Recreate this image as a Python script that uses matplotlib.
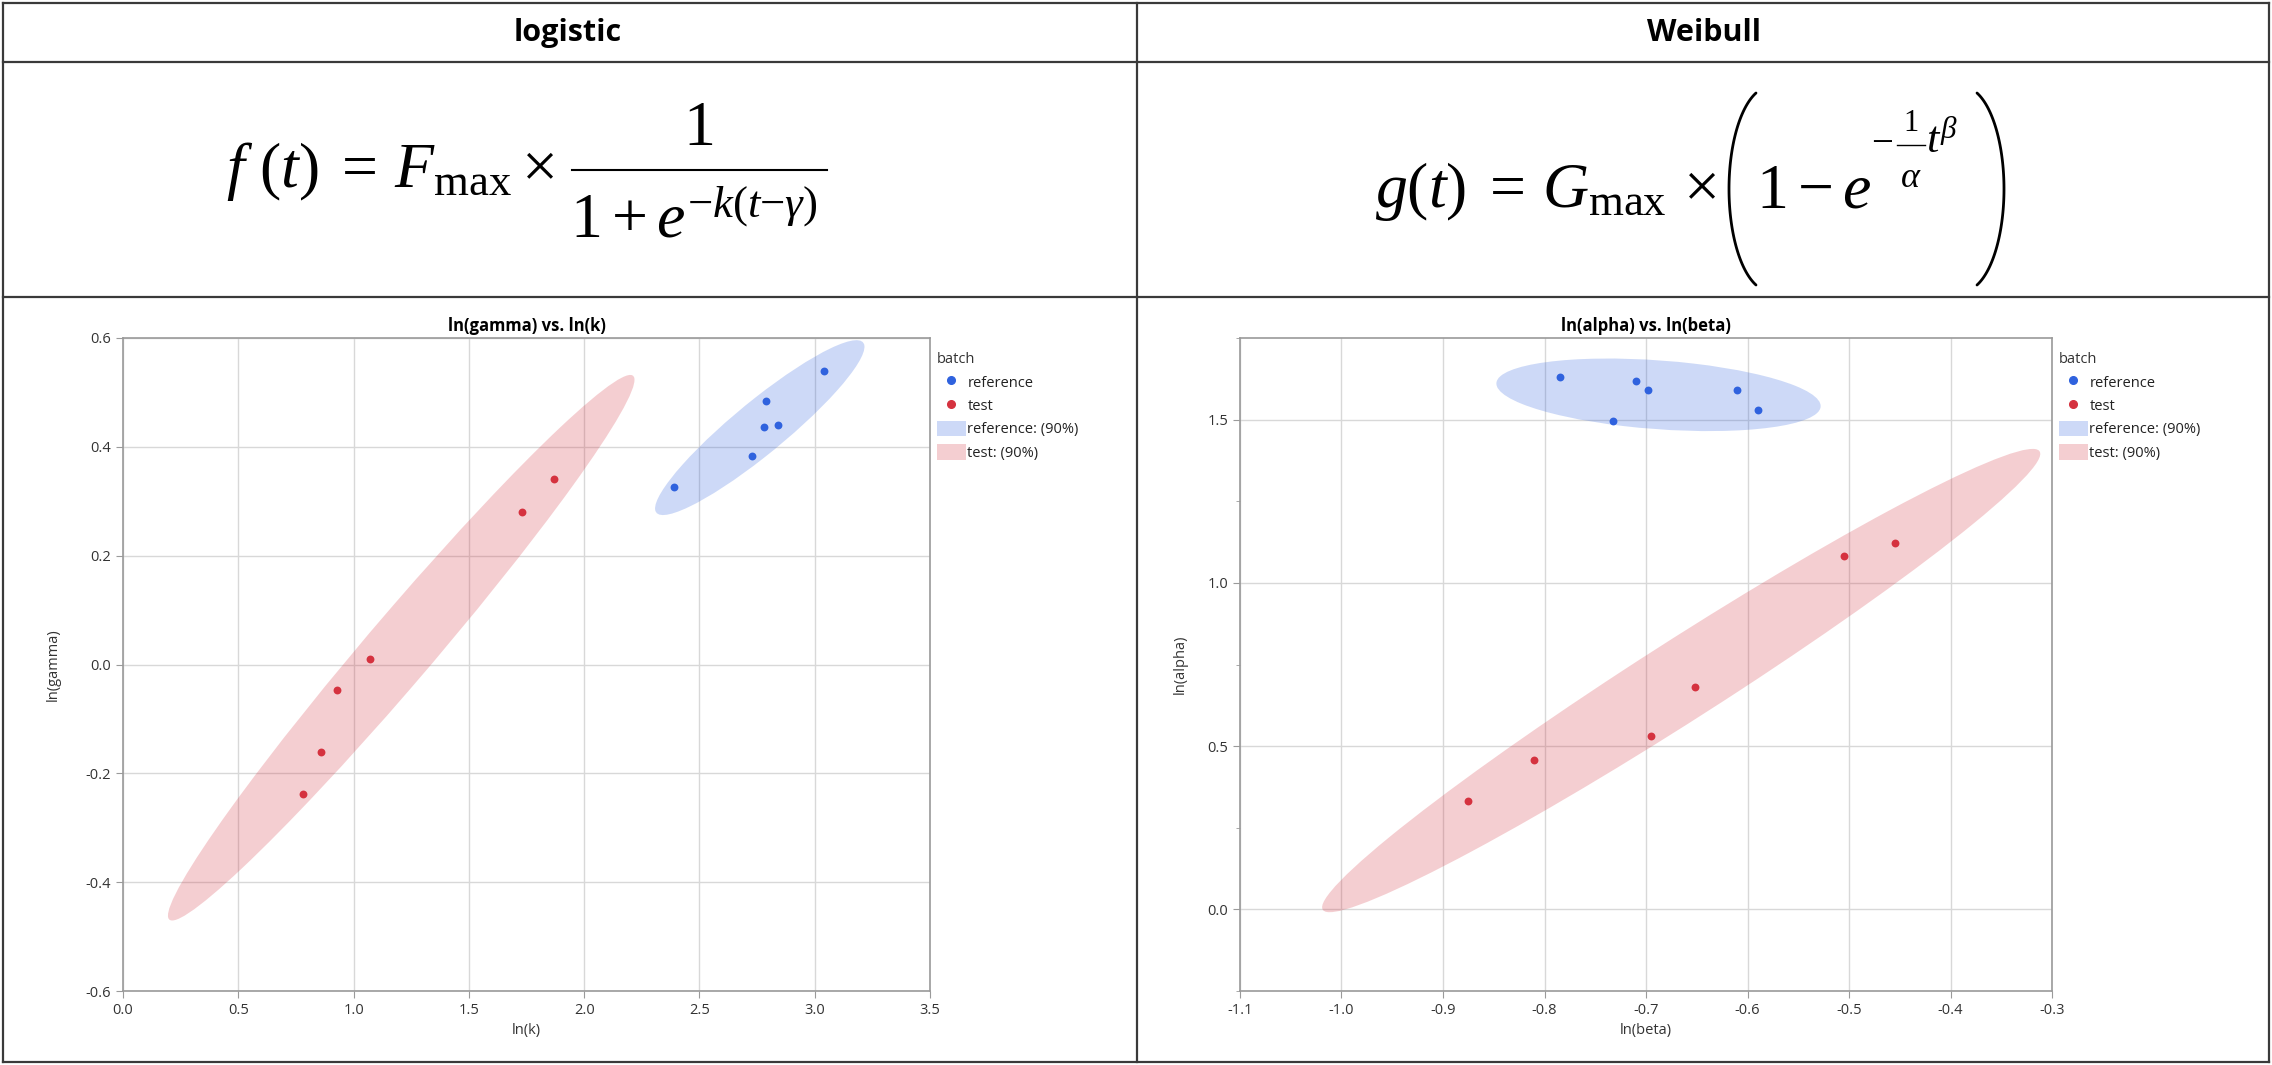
import numpy as np
import matplotlib
matplotlib.use("Agg")
import matplotlib.pyplot as plt
from matplotlib.patches import Ellipse, Patch
from matplotlib.lines import Line2D
from matplotlib.ticker import MultipleLocator

plt.rcParams['font.family'] = ['Open Sans', 'DejaVu Sans']
plt.rcParams['mathtext.fontset'] = 'custom'
plt.rcParams['mathtext.rm'] = 'Liberation Serif'
plt.rcParams['mathtext.it'] = 'Liberation Serif:italic'
plt.rcParams['mathtext.bf'] = 'Liberation Serif:bold'
plt.rcParams['axes.unicode_minus'] = False

# logistic fit parameters, ln(k) vs ln(gamma)
logi_ref_lnk = [2.39, 2.79, 2.78, 2.84, 2.73, 3.04]
logi_ref_lngamma = [0.326, 0.485, 0.437, 0.440, 0.384, 0.540]
logi_test_lnk = [1.73, 1.87, 1.07, 0.93, 0.86, 0.78]
logi_test_lngamma = [0.280, 0.340, 0.010, -0.047, -0.160, -0.238]

# Weibull fit parameters, ln(beta) vs ln(alpha)
weib_ref_lnbeta = [-0.785, -0.710, -0.698, -0.733, -0.610, -0.590]
weib_ref_lnalpha = [1.630, 1.617, 1.590, 1.497, 1.592, 1.530]
weib_test_lnbeta = [-0.505, -0.455, -0.652, -0.695, -0.810, -0.875]
weib_test_lnalpha = [1.082, 1.122, 0.680, 0.530, 0.458, 0.333]

coverage = 0.90
blue = '#2f62de'
red = '#d5323f'

W, H = 2272, 1065
fig = plt.figure(figsize=(W / 100, H / 100), dpi=100)


def fx(px):
    return px / W


def fy(py):
    return 1 - py / H


def density_ellipse(ax, x, y, color):
    x = np.asarray(x)
    y = np.asarray(y)
    cov = np.cov(x, y)
    vals, vecs = np.linalg.eigh(cov)
    r = np.sqrt(-2 * np.log(1 - coverage))
    angle = np.degrees(np.arctan2(vecs[1, 1], vecs[0, 1]))
    e = Ellipse((x.mean(), y.mean()), 2 * r * np.sqrt(vals[1]), 2 * r * np.sqrt(vals[0]),
                angle=angle, facecolor=color, alpha=0.24, edgecolor='none', zorder=1)
    ax.add_patch(e)


def style_axes(ax):
    ax.grid(True, color='#d8d8d8', linewidth=1.0, zorder=0)
    ax.set_axisbelow(True)
    for side in ['left', 'bottom', 'top', 'right']:
        ax.spines[side].set_color('#9a9a9a')
        ax.spines[side].set_linewidth(1.2)
    ax.tick_params(which='major', length=5, color='#9a9a9a', labelsize=10.5, labelcolor='#333333')
    ax.tick_params(which='minor', length=3, color='#9a9a9a')


def add_legend(ax):
    handles = [
        Line2D([], [], marker='o', color=blue, linestyle='none', markersize=5.5),
        Line2D([], [], marker='o', color=red, linestyle='none', markersize=5.5),
        Patch(facecolor=blue, alpha=0.24, edgecolor='none'),
        Patch(facecolor=red, alpha=0.24, edgecolor='none'),
    ]
    labels = ['reference', 'test', 'reference: (90%)', 'test: (90%)']
    leg = ax.legend(handles, labels, title='batch', loc='upper left', bbox_to_anchor=(1.003, 0.985),
                    frameon=False, fontsize=10.5, title_fontsize=10.5, alignment='left',
                    handlelength=2.0, handleheight=1.3, handletextpad=0.1,
                    labelspacing=0.45, borderaxespad=0.2, borderpad=0.1)
    for t in leg.get_texts():
        t.set_color('#222222')
    leg.get_title().set_color('#333333')


def paren(x_out, x_in, y_top, y_bot):
    # thin tall bracket drawn as an elliptic arc, pixel coords
    th = np.radians(70)
    a = abs(x_in - x_out) / (1 - np.cos(th))
    b = (y_bot - y_top) / 2 / np.sin(th)
    cy = (y_top + y_bot) / 2
    sign = 1 if x_in > x_out else -1
    t = np.linspace(-th, th, 80)
    xs = x_out + sign * a * (1 - np.cos(t))
    ys = cy + b * np.sin(t)
    fig.add_artist(Line2D([fx(v) for v in xs], [fy(v) for v in ys], color='black',
                          linewidth=2.0, solid_capstyle='round'))


def hbar(x0, x1, y, lw):
    fig.add_artist(Line2D([fx(x0), fx(x1)], [fy(y), fy(y)], color='black', linewidth=lw))


# left plot
ax1 = fig.add_axes([fx(123), fy(991), fx(930) - fx(123), fy(338) - fy(991)])
density_ellipse(ax1, logi_ref_lnk, logi_ref_lngamma, blue)
density_ellipse(ax1, logi_test_lnk, logi_test_lngamma, red)
ax1.scatter(logi_ref_lnk, logi_ref_lngamma, s=32, color=blue, zorder=3, linewidths=0)
ax1.scatter(logi_test_lnk, logi_test_lngamma, s=32, color=red, zorder=3, linewidths=0)
ax1.set_xlim(0, 3.5)
ax1.set_ylim(-0.6, 0.6)
ax1.xaxis.set_major_locator(MultipleLocator(0.5))
ax1.yaxis.set_major_locator(MultipleLocator(0.2))
style_axes(ax1)
ax1.set_title('ln(gamma) vs. ln(k)', fontsize=12, fontweight='bold', pad=5)
ax1.set_xlabel('ln(k)', fontsize=10.5, color='#333333')
ax1.set_ylabel('ln(gamma)', fontsize=10.5, color='#333333', labelpad=18)
add_legend(ax1)

# right plot
ax2 = fig.add_axes([fx(1240), fy(991), fx(2052) - fx(1240), fy(338) - fy(991)])
density_ellipse(ax2, weib_ref_lnbeta, weib_ref_lnalpha, blue)
density_ellipse(ax2, weib_test_lnbeta, weib_test_lnalpha, red)
ax2.scatter(weib_ref_lnbeta, weib_ref_lnalpha, s=32, color=blue, zorder=3, linewidths=0)
ax2.scatter(weib_test_lnbeta, weib_test_lnalpha, s=32, color=red, zorder=3, linewidths=0)
ax2.set_xlim(-1.1, -0.3)
ax2.set_ylim(-0.25, 1.75)
ax2.xaxis.set_major_locator(MultipleLocator(0.1))
ax2.yaxis.set_major_locator(MultipleLocator(0.5))
ax2.yaxis.set_minor_locator(MultipleLocator(0.25))
style_axes(ax2)
ax2.set_title('ln(alpha) vs. ln(beta)', fontsize=12, fontweight='bold', pad=5)
ax2.set_xlabel('ln(beta)', fontsize=10.5, color='#333333')
ax2.set_ylabel('ln(alpha)', fontsize=10.5, color='#333333', labelpad=14)
add_legend(ax2)

# table grid
lc = '#3a3a3a'
for py in [3, 62, 297, 1062]:
    fig.add_artist(Line2D([fx(3), fx(2269)], [fy(py), fy(py)], color=lc, linewidth=1.6))
for px in [3, 1137, 2269]:
    fig.add_artist(Line2D([fx(px), fx(px)], [fy(3), fy(1062)], color=lc, linewidth=1.6))

fig.text(fx(568), fy(33), 'logistic', ha='center', va='center', fontsize=22, fontweight='bold')
fig.text(fx(1704), fy(33), 'Weibull', ha='center', va='center', fontsize=22, fontweight='bold')

fs = 46

# logistic formula, laid out like the MathType original
fig.text(fx(226), fy(187), r'$f\,\,(t)\;=\,F_{\mathrm{max}}\times$', ha='left', va='baseline', fontsize=fs)
hbar(572, 827, 170, 1.5)
fig.text(fx(698), fy(145), r'$1$', ha='center', va='baseline', fontsize=fs)
fig.text(fx(570), fy(237), r'$1+e^{-k(t{-}\gamma)}$', ha='left', va='baseline', fontsize=fs)

# Weibull formula, put together from pieces so the brackets can be tall
fig.text(fx(1375), fy(207), r'$g(t)\;=\,G_{\mathrm{max}}\,\times$', ha='left', va='baseline', fontsize=fs)
paren(1729, 1756, 93, 285)
fig.text(fx(1756), fy(207), r'$1 - e$', ha='left', va='baseline', fontsize=fs)
fig.text(fx(1871), fy(142), r'$-$', ha='left', va='center', fontsize=28)
hbar(1897, 1925, 145, 1.0)
fig.text(fx(1911), fy(131), r'$1$', ha='center', va='baseline', fontsize=22)
fig.text(fx(1911), fy(187), r'$\alpha$', ha='center', va='baseline', fontsize=26)
fig.text(fx(1926), fy(153), r'$t^{\beta}$', ha='left', va='baseline', fontsize=32)
paren(2004, 1977, 93, 285)

fig.savefig('out.png', dpi=100)
